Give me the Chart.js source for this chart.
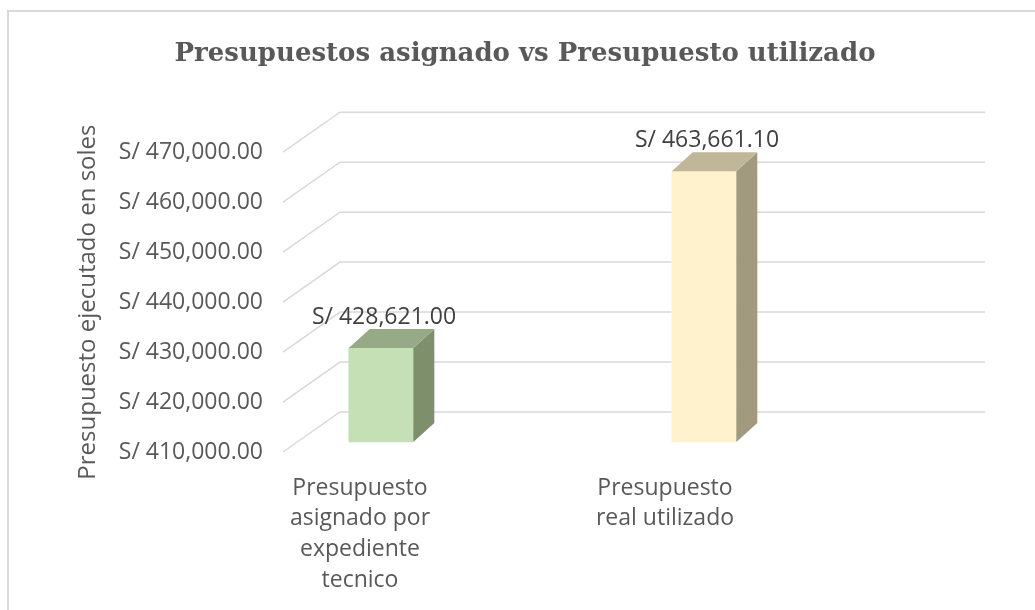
<!DOCTYPE html>
<html>
<head>
<meta charset="utf-8">
<script src="https://cdn.jsdelivr.net/npm/chart.js@4.4.1/dist/chart.umd.min.js"></script>
<style>
  body { margin: 0; background: #fff; }
  #wrap { position: relative; width: 1035px; height: 610px; overflow: hidden; }
  #marco { position: absolute; left: 7px; top: 10px; right: -10px; bottom: -10px;
           border-left: 2px solid #d9d9d9; border-top: 2px solid #d9d9d9; }
  #grafico { position: absolute; left: 0; top: 0; }
</style>
</head>
<body>
<div id="wrap">
  <div id="marco"></div>
  <canvas id="grafico" width="1035" height="610"></canvas>
</div>
<script>
// datos
const categorias = [
  ['Presupuesto', 'asignado por', 'expediente', 'tecnico'],
  ['Presupuesto', 'real utilizado']
];
const montos = [428621.00, 463661.10];
const ejeMin = 410000;
const ejeMax = 470000;
const paso = 10000;

const colorFrente = ['#C5E0B4', '#FFF2CC'];
const colorArriba = ['#97AA87', '#C0B799'];
const colorLado = ['#7D8F6B', '#A29A7E'];

function soles(v) {
  return 'S/ ' + v.toLocaleString('en-US', { minimumFractionDigits: 2, maximumFractionDigits: 2 });
}

// perspectiva: las barras estan un poco dentro del piso
const persp = { sx: 1.059, tx: -0.2, sy: 1.01, ty: -14.5 };
const fondo = { dx: 57, dy: -40 };
const prof = { dx: 21, dy: -19 };

const efecto3d = {
  id: 'efecto3d',
  beforeDatasetsDraw(chart) {
    const { ctx, chartArea, scales } = chart;
    const y = scales.y;
    const x0 = chartArea.left - 77;
    const xPared = x0 + fondo.dx;
    const xFin = chartArea.right + 320;
    ctx.save();
    ctx.strokeStyle = '#d9d9d9';
    ctx.lineWidth = 1.5;
    y.ticks.forEach(t => {
      const py = y.getPixelForValue(t.value);
      ctx.beginPath();
      ctx.moveTo(x0, py);
      ctx.lineTo(xPared, py + fondo.dy);
      ctx.lineTo(xFin, py + fondo.dy);
      ctx.stroke();
    });
    ctx.restore();
    ctx.save();
    ctx.translate(persp.tx, persp.ty);
    ctx.scale(persp.sx, persp.sy);
  },
  afterDatasetsDraw(chart) {
    const { ctx } = chart;
    ctx.restore();
    const px = x => x * persp.sx + persp.tx;
    const py = y => y * persp.sy + persp.ty;
    chart.getDatasetMeta(0).data.forEach((bar, i) => {
      const l = px(bar.x - bar.width / 2);
      const r = px(bar.x + bar.width / 2);
      const t = py(bar.y);
      const b = py(bar.base);
      ctx.save();
      // cara lateral
      ctx.fillStyle = colorLado[i];
      ctx.beginPath();
      ctx.moveTo(r, t);
      ctx.lineTo(r + prof.dx, t + prof.dy);
      ctx.lineTo(r + prof.dx, b + prof.dy);
      ctx.lineTo(r, b);
      ctx.closePath();
      ctx.fill();
      // cara superior
      ctx.fillStyle = colorArriba[i];
      ctx.beginPath();
      ctx.moveTo(l, t);
      ctx.lineTo(l + prof.dx, t + prof.dy);
      ctx.lineTo(r + prof.dx, t + prof.dy);
      ctx.lineTo(r, t);
      ctx.closePath();
      ctx.fill();
      // etiqueta
      ctx.fillStyle = '#404040';
      ctx.font = '23px "Open Sans"';
      ctx.textAlign = 'center';
      ctx.textBaseline = 'middle';
      ctx.fillText(soles(montos[i]), (l + r) / 2 + 3, t - 31);
      ctx.restore();
    });
  }
};

new Chart(document.getElementById('grafico').getContext('2d'), {
  type: 'bar',
  data: {
    labels: categorias,
    datasets: [{
      label: 'Presupuesto',
      data: montos,
      base: ejeMin,
      backgroundColor: colorFrente,
      borderWidth: 0,
      barThickness: 61,
      clip: false
    }]
  },
  options: {
    responsive: false,
    animation: false,
    layout: { padding: { left: 15, right: 0, top: 0, bottom: 0 } },
    plugins: {
      legend: { display: false },
      tooltip: { enabled: false },
      title: {
        display: true,
        text: 'Presupuestos asignado vs Presupuesto utilizado',
        color: '#595959',
        font: { family: '"DejaVu Serif"', size: 26, weight: 'bold' },
        padding: { top: 39, bottom: 82 }
      }
    },
    scales: {
      x: {
        offset: false,
        grid: { display: false, drawTicks: false },
        border: { display: false },
        ticks: {
          color: '#595959',
          font: { family: '"Open Sans"', size: 23, lineHeight: 1.33 },
          padding: 21,
          maxRotation: 0,
          autoSkip: false
        },
        afterFit(s) { s.height = 158; }
      },
      y: {
        min: ejeMin,
        max: ejeMax,
        grid: { display: false, drawTicks: false },
        border: { display: false },
        ticks: {
          stepSize: paso,
          color: '#595959',
          font: { family: '"Open Sans"', size: 23 },
          padding: 97,
          callback: v => soles(v)
        },
        title: {
          display: true,
          text: 'Presupuesto ejecutado en soles',
          color: '#595959',
          font: { family: '"Open Sans"', size: 24 },
          padding: { top: 59, bottom: 0 }
        },
        afterFit(s) { s.width = 345; }
      },
      // espacio a la derecha del area del grafico
      margen: {
        position: 'right',
        display: true,
        grid: { display: false },
        border: { display: false },
        ticks: { display: false },
        afterFit(s) { s.width = 370; }
      }
    }
  },
  plugins: [efecto3d]
});
</script>
</body>
</html>
